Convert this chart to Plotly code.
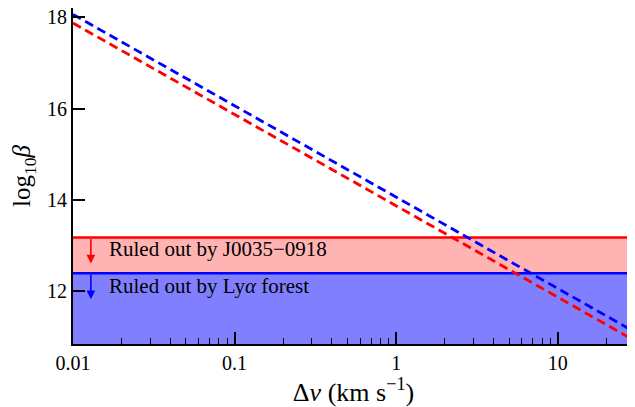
import numpy as np
import plotly.graph_objects as go

# Data
dv = [0.01, 30.0]                      # km/s (x extent)
log_beta_blue = [18.06, 11.11]         # dashed blue line
log_beta_red = [17.87, 10.92]          # dashed red line
limit_j0035 = 13.18                    # ruled out by J0035-0918
limit_lya = 12.40                      # ruled out by Lya forest
band_labels = ["Ruled out by J0035\u22120918", "Ruled out by Ly<i>\u03b1</i> forest"]
xtick_vals = [0.01, 0.1, 1, 10]
xtick_text = ["0.01", "0.1", "1", "10"]
xminor_vals = [m * d for d in [0.01, 0.1, 1, 10] for m in range(2, 10)]
ytick_vals = [12, 14, 16, 18]

FONT = "Liberation Serif"
fig = go.Figure()

# Blue band (bottom up to Lya limit)
fig.add_trace(go.Scatter(x=dv, y=[limit_lya]*2, mode="lines", line=dict(width=0),
                         fill="tozeroy", fillcolor="rgba(128,128,255,1)", hoverinfo="skip"))
# Red band between limits
fig.add_trace(go.Scatter(x=dv, y=[limit_lya]*2, mode="lines", line=dict(width=0), hoverinfo="skip"))
fig.add_trace(go.Scatter(x=dv, y=[limit_j0035]*2, mode="lines", line=dict(width=0),
                         fill="tonexty", fillcolor="rgba(255,179,179,1)", hoverinfo="skip"))
# Solid limit lines
fig.add_trace(go.Scatter(x=dv, y=[limit_j0035]*2, mode="lines", line=dict(color="red", width=2.5)))
fig.add_trace(go.Scatter(x=dv, y=[limit_lya]*2, mode="lines", line=dict(color="blue", width=2.5)))
# Dashed curves
fig.add_trace(go.Scatter(x=dv, y=log_beta_blue, mode="lines",
                         line=dict(color="blue", width=2.8, dash="9px,5px")))
fig.add_trace(go.Scatter(x=dv, y=log_beta_red, mode="lines",
                         line=dict(color="red", width=2.8, dash="9px,5px")))

arrow_x = np.log10(0.0129)
text_x = np.log10(0.0162)
for lim, col, lab, dy in [(limit_j0035, "red", band_labels[0], 0.26),
                          (limit_lya, "blue", band_labels[1], 0.28)]:
    fig.add_annotation(x=arrow_x, y=lim - 0.57, ax=arrow_x, ay=lim,
                       xref="x", yref="y", axref="x", ayref="y",
                       showarrow=True, arrowhead=2, arrowsize=1.1, arrowwidth=1.6,
                       arrowcolor=col, text="")
    fig.add_annotation(x=text_x, y=lim - dy, xref="x", yref="y", text=lab,
                       showarrow=False, xanchor="left", yanchor="middle",
                       font=dict(family=FONT, size=21, color="black"))

# the page body adds an 8px offset, so the figure is sized to compensate
fig.update_layout(
    width=627, height=399,
    margin=dict(l=65, r=1, t=0, b=63),
    paper_bgcolor="white", plot_bgcolor="white",
    showlegend=False,
    font=dict(family=FONT, size=20, color="black"),
)
fig.update_xaxes(type="log", range=[np.log10(0.01), np.log10(29.6)],
                 tickvals=xtick_vals, ticktext=xtick_text, automargin=False,
                 ticks="inside", ticklen=12, tickwidth=1.5, tickcolor="black",
                 minor=dict(tickvals=xminor_vals, ticks="inside", ticklen=6, tickwidth=1,
                            tickcolor="black", showgrid=False),
                 showgrid=False, zeroline=False,
                 showline=True, linecolor="black", linewidth=2, mirror=True,
                 title=dict(text="\u0394<i>v</i> (km s<sup>\u22121</sup>)", standoff=3,
                            font=dict(family=FONT, size=26)))
fig.update_yaxes(range=[10.85, 18.2], tickvals=ytick_vals, automargin=False,
                 ticklabeloverflow="allow",
                 ticks="inside", ticklen=12, tickwidth=1.5, tickcolor="black",
                 showgrid=False, zeroline=False,
                 showline=True, linecolor="black", linewidth=2, mirror=True,
                 title=dict(text="log<sub>10</sub><i>\u03b2</i>", standoff=9,
                            font=dict(family=FONT, size=25)))

fig.write_html("out.html")
